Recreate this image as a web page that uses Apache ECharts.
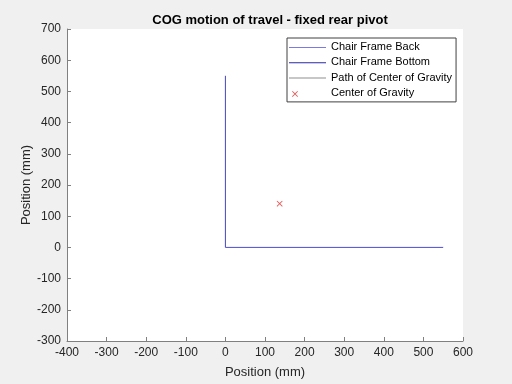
<!DOCTYPE html>
<html><head><meta charset="utf-8">
<script src="https://cdn.jsdelivr.net/npm/echarts@6/dist/echarts.min.js"></script>
<style>html,body{margin:0;padding:0;background:#f0f0f0}#c{width:512px;height:384px}</style>
</head><body><div id="c"></div>
<script>
var titleText = 'COG motion of travel - fixed rear pivot';
var seriesNames = ['Chair Frame Back', 'Chair Frame Bottom', 'Path of Center of Gravity', 'Center of Gravity'];
var frameBack = [[0, 0], [0, 550]];
var frameBottom = [[0, 0], [550, 0]];
var cogPath = [[137, 140], [137, 140]];
var cogPoint = [[137, 140]];
var xMin = -400, xMax = 600, xStep = 100;
var yMin = -300, yMax = 700, yStep = 100;

var xMark = 'path://M0,1L1,0L5,4L9,0L10,1L6,5L10,9L9,10L5,6L1,10L0,9L4,5Z';
var xLegend = 'path://M0,0M3,5.6L3.6,5L6,7.4L8.4,5L9,5.6L6.6,8L9,10.4L8.4,11L6,8.6L3.6,11L3,10.4L5.4,8ZM37,14';
var lineLegend = 'path://M0,0M0,7L37,7L37,8L0,8ZM37,14';

var chart = echarts.init(document.getElementById('c'));
var font = 'Liberation Sans, Arial, Helvetica, sans-serif';
chart.setOption({
  backgroundColor: '#f0f0f0',
  animation: false,
  title: { text: titleText, left: 265, top: 9, textAlign: 'center',
    textStyle: { fontFamily: font, fontSize: 13, fontWeight: 'bold', color: '#000' } },
  grid: { left: 67, right: 49, top: 29, bottom: 42, show: true, backgroundColor: '#ffffff', borderWidth: 0 },
  legend: {
    orient: 'vertical', left: 287, top: 38, padding: [2, 4, 2, 2],
    backgroundColor: '#ffffff', borderColor: '#404040', borderWidth: 1,
    itemWidth: 37, itemHeight: 14, itemGap: 1.3,
    textStyle: { fontFamily: font, fontSize: 11, color: '#000', lineHeight: 14 },
    data: [
      { name: seriesNames[0], icon: lineLegend },
      { name: seriesNames[1], icon: lineLegend },
      { name: seriesNames[2], icon: lineLegend },
      { name: seriesNames[3], icon: xLegend }
    ]
  },
  xAxis: {
    type: 'value', min: xMin, max: xMax, interval: xStep,
    name: 'Position (mm)', nameLocation: 'middle', nameGap: 25, nameMoveOverlap: false,
    nameTextStyle: { fontFamily: font, fontSize: 13, color: '#262626' },
    axisLine: { show: true, onZero: false, lineStyle: { color: '#808080' } },
    axisTick: { show: true, inside: true, length: 4, lineStyle: { color: '#808080' } },
    axisLabel: { fontFamily: font, fontSize: 12, color: '#262626', margin: 6 },
    splitLine: { show: false }
  },
  yAxis: {
    type: 'value', min: yMin, max: yMax, interval: yStep,
    name: 'Position (mm)', nameLocation: 'middle', nameGap: 34, nameMoveOverlap: false,
    nameTextStyle: { fontFamily: font, fontSize: 13, color: '#262626' },
    axisLine: { show: true, onZero: false, lineStyle: { color: '#808080' } },
    axisTick: { show: true, inside: true, length: 4, lineStyle: { color: '#808080' } },
    axisLabel: { fontFamily: font, fontSize: 12, color: '#262626', margin: 6 },
    splitLine: { show: false }
  },
  series: [
    { name: seriesNames[0], type: 'line', data: frameBack, symbol: 'none',
      lineStyle: { color: '#4444c0', width: 1 }, itemStyle: { color: '#7a7ae0' } },
    { name: seriesNames[1], type: 'line', data: frameBottom, symbol: 'none',
      lineStyle: { color: '#4c4cd0', width: 1 }, itemStyle: { color: '#2a2aa0' } },
    { name: seriesNames[2], type: 'line', data: cogPath, symbol: 'none',
      lineStyle: { color: '#909090', width: 1 }, itemStyle: { color: '#909090' } },
    { name: seriesNames[3], type: 'scatter', data: cogPoint, symbol: xMark, symbolSize: 6,
      itemStyle: { color: '#e03030' } }
  ]
});
</script></body></html>
